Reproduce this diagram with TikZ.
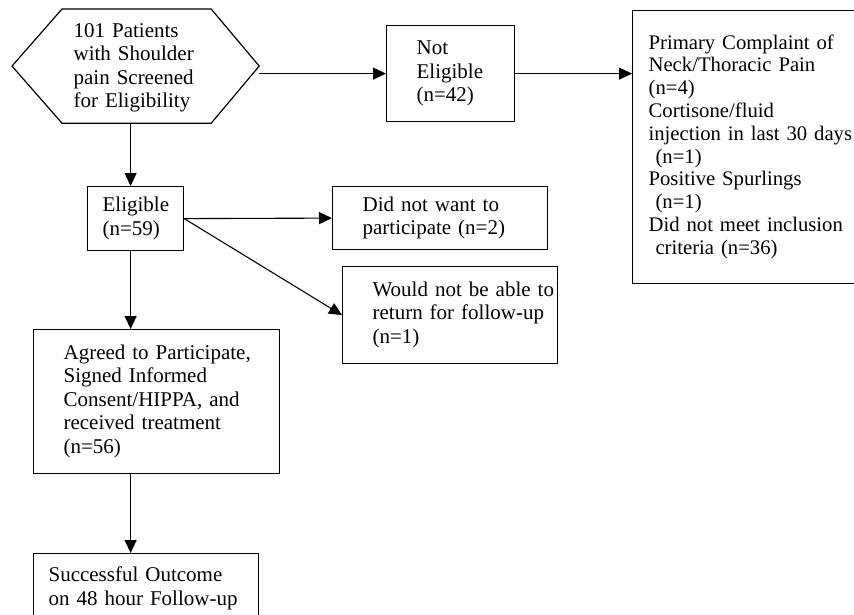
\documentclass[tikz,border=0pt]{standalone}
\usepackage{fontspec}
\setmainfont{Liberation Serif}
\usetikzlibrary{arrows.meta}
\newcommand\tb[2]{\hspace*{#1}\begin{tabular}{@{}l@{}}#2\end{tabular}}
\begin{document}
\begin{tikzpicture}[x=1pt,y=-1pt,
  box/.style={draw, line width=1.2pt, anchor=north west, inner sep=0pt, align=left,
    font=\fontsize{21pt}{23.5pt}\selectfont},
  arr/.style={line width=1.1pt, -{Triangle[length=13pt,width=12pt]}}]
\useasboundingbox (0,0) rectangle (854,614);
% hexagon
\node[box, draw=none, minimum width=246pt, minimum height=113pt, text width=246pt] (hex) at (12,9)
  {\tb{61pt}{\rule{0pt}{20pt}101 Patients\\with Shoulder\\pain Screened\\for Eligibility}};
\draw[line width=1.2pt] (hex.west) -- ([xshift=50pt]hex.north west) -- ([xshift=-48pt]hex.north east)
  -- (hex.east) -- ([xshift=-48pt]hex.south east) -- ([xshift=50pt]hex.south west) -- cycle;
% boxes
\node[box, minimum width=128pt, minimum height=96pt, text width=128pt] (ne) at (386,25)
  {\tb{30pt}{Not\\Eligible\\(n=42)}};
\node[box, minimum width=260pt, minimum height=273pt, text width=260pt,
  font=\fontsize{20.7pt}{22.8pt}\selectfont] (rb) at (632,10)
  {\tb{16pt}{Primary Complaint of\\Neck/Thoracic Pain\\(n=4)\\Cortisone/fluid\\injection in last 30 days\\\ (n=1)\\Positive Spurlings\\\ (n=1)\\Did not meet inclusion\\\ criteria (n=36)}};
\node[box, minimum width=96pt, minimum height=64pt, text width=96pt] (elig) at (87,186)
  {\tb{15pt}{Eligible\\(n=59)}};
\node[box, minimum width=215pt, minimum height=63pt, text width=215pt] (dnw) at (332,186)
  {\tb{30pt}{Did not want to\\participate (n=2)}};
\node[box, minimum width=215pt, minimum height=97pt, text width=215pt] (would) at (342,266)
  {\tb{30pt}{Would not be able to\\return for follow-up\\(n=1)}};
\node[box, minimum width=246pt, minimum height=144pt, text width=246pt] (agreed) at (33,329)
  {\tb{30pt}{Agreed to Participate,\\Signed Informed\\Consent/HIPPA, and\\received treatment\\(n=56)}};
\node[box, minimum width=225pt, minimum height=70pt, text width=225pt] (success) at (33,553)
  {\tb{15pt}{Successful Outcome\\on 48 hour Follow-up}};
% connectors
\draw[arr] (ne.west -| hex.east) -- (ne.west);
\draw[arr] (ne.east) -- (ne.east -| rb.west);
\draw[arr] ([xshift=-5pt]hex.south) -- ([xshift=-5pt]hex.south |- elig.north);
\draw[arr] (elig.east) -- (dnw.west);
\draw[arr] (elig.east) -- (would.west);
\draw[arr] ([xshift=-5pt]elig.south) -- ([xshift=-5pt]elig.south |- agreed.north);
\draw[arr] ([xshift=-5pt]elig.south |- agreed.south) -- ([xshift=-5pt]elig.south |- success.north);
\end{tikzpicture}
\end{document}
